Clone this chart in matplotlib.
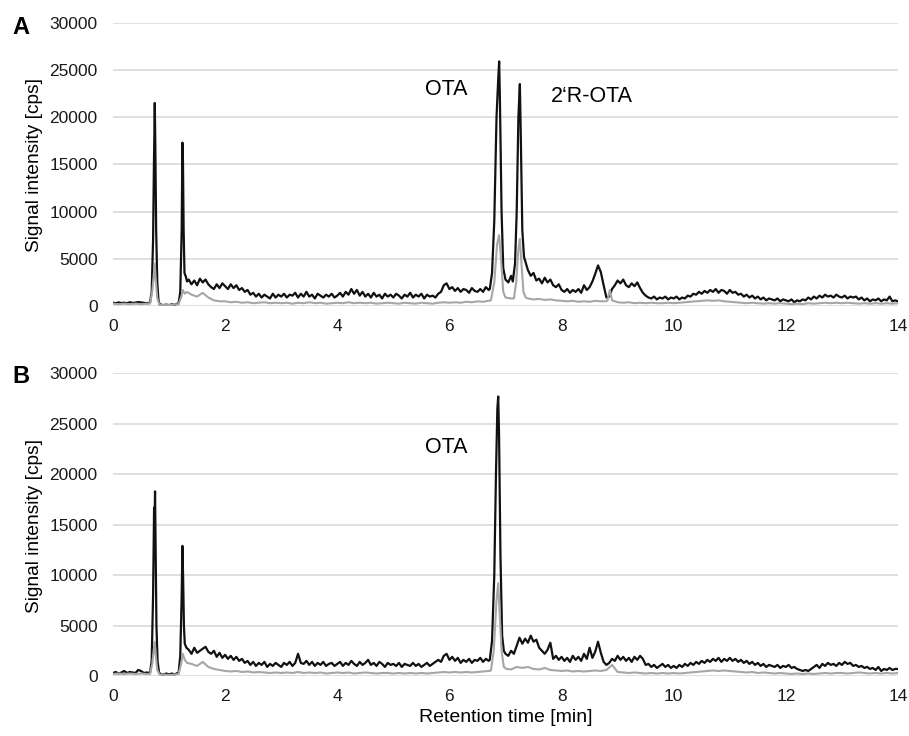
import numpy as np
import matplotlib
matplotlib.use("Agg")
import matplotlib.pyplot as plt

nan = np.nan
plt.rcParams['font.family'] = ['Liberation Sans', 'DejaVu Sans']

## Baseline samples: black traces every 0.05 min, grey traces every 0.1 min.
## NaN marks samples that are replaced by the detailed peak points below.
black_step = 0.05
grey_step = 0.1

black_a = [
    350, 300, 380, 320, 350, 300, 400, 330, 360, 420, 380, 350, 300, 350, nan, nan, nan, 150, 100, 150,
    100, 180, 120, 250, nan, nan, nan, 2800, 2300, 2700, 2200, 2900, 2500, 2800, 2300, 2000, 1800, 2300, 1900, 2400,
    2100, 1800, 2300, 1900, 2200, 1700, 1900, 1500, 1700, 1200, 1400, 1000, 1300, 900, 1200, 1000, 800, 1300, 900, 1200,
    1000, 1300, 900, 1200, 1100, 1400, 900, 1300, 1000, 1500, 1000, 1200, 800, 1300, 1100, 900, 1200, 1000, 1300, 900,
    1100, 1400, 1000, 1500, 1200, 1800, 1300, 1700, 1100, 1500, 1000, 1300, 900, 1400, 1000, 1200, 800, 1300, 1000, 1200,
    900, 1300, 1100, 800, 1200, 1000, 1400, 900, 1200, 1000, 1300, 800, 1200, 1000, 1100, 900, 1300, 1500, 2200, 2400,
    1800, 2000, 1600, 1900, 1500, 1800, 1700, 1400, 1900, 1600, 1500, 1800, 1500, 2000, 1700, nan, nan, nan, nan, nan,
    nan, 2500, 3200, nan, nan, nan, nan, nan, 3800, 3200, 3500, 2700, 2900, 2400, 3000, 2500, 2800, 2200, 2000, 2300,
    1700, 1500, 1800, 1400, 1700, 1500, 1800, 1400, 2200, 1700, 2000, 2600, 3400, 4300, 3600, 2200, 900, 1000, 1800, 2200,
    2700, 2400, 2800, 2200, 2000, 2400, 2100, 2500, 1900, 1400, 1100, 900, 800, 1000, 700, 900, 800, 1000, 700, 900,
    800, 1000, 700, 900, 800, 1100, 1000, 1300, 1200, 1500, 1300, 1600, 1400, 1700, 1500, 1800, 1400, 1700, 1600, 1300,
    1700, 1400, 1500, 1200, 1300, 1000, 1200, 900, 1100, 800, 1000, 700, 900, 600, 800, 700, 600, 800, 500, 700,
    600, 500, 700, 400, 600, 500, 700, 600, 900, 700, 1000, 800, 1100, 900, 1200, 1000, 1100, 900, 1200, 1000,
    900, 1100, 800, 1000, 900, 1000, 700, 900, 600, 800, 500, 700, 600, 800, 500, 700, 600, 1000, 500, 600,
    500,
]
grey_a = [
    250, 200, 250, 200, 250, 200, 250, nan, nan, 100,
    100, 150, nan, nan, 1200, 1000, 1400, 900, 600, 500,
    500, 400, 450, 350, 400, 300, 350, 400, 300, 350,
    300, 350, 250, 350, 300, 400, 300, 350, 250, 300,
    350, 300, 400, 300, 350, 300, 350, 250, 300, 350,
    300, 250, 350, 300, 250, 350, 300, 250, 350, 400,
    350, 400, 350, 450, 400, 500, 450, 550, nan, nan,
    nan, 800, nan, nan, 800, 700, 750, 650, 700, 600,
    550, 500, 550, 450, 500, 450, 550, 500, 500, nan,
    400, 350, 400, 300, 350, 300, 350, 300, 300, 350,
    300, 350, 400, 450, 500, 550, 600, 550, 600, 500,
    450, 400, 350, 300, 350, 300, 250, 300, 250, 300,
    250, 200, 250, 200, 300, 250, 300, 350, 300, 350,
    300, 350, 300, 250, 300, 250, 300, 250, 300, 250,
    300,
]
black_b = [
    300, 400, 250, 350, 500, 300, 400, 350, 300, 600, 500, 300, 350, 300, nan, nan, nan, 200, 150, 250,
    150, 250, 150, 300, nan, nan, nan, 2600, 2200, 2800, 2300, 2500, 2700, 2900, 2400, 2200, 2500, 1900, 2300, 1800,
    2100, 1700, 2000, 1600, 1900, 1500, 1700, 1300, 1500, 1100, 1400, 1000, 1300, 1100, 1400, 900, 1200, 1000, 1300, 1100,
    900, 1300, 1100, 1400, 1000, 1300, 2200, 1300, 1200, 1500, 1100, 1400, 1000, 1300, 1100, 1400, 1000, 1200, 1300, 1000,
    1200, 1400, 1000, 1300, 1100, 1500, 1200, 1000, 1400, 1100, 1300, 1600, 1100, 1300, 1000, 1400, 1200, 900, 1300, 1100,
    1200, 1000, 1300, 900, 1200, 1100, 1000, 1300, 1000, 1200, 900, 1100, 1300, 1000, 1200, 1400, 1600, 1400, 2000, 2200,
    1600, 1900, 1500, 1800, 1300, 1600, 1400, 1700, 1300, 1600, 1500, 1800, 1400, 1700, 1500, nan, nan, nan, nan, nan,
    nan, 2000, 2500, 2200, 3000, 3800, 3200, 3700, 3300, 4000, 3400, 3600, 2800, 2500, 2200, 2600, 3300, 1700, 2000, 1600,
    1900, 1500, 1800, 1400, 2000, 1600, 1900, 1500, 2200, 1700, 2800, 1800, 2400, 3400, 2300, 1400, 1100, 1300, 1700, 1500,
    2000, 1600, 1900, 1500, 1800, 1400, 1900, 1600, 2000, 1700, 1100, 1200, 900, 1100, 800, 1000, 1200, 900, 1100, 800,
    1000, 800, 1100, 900, 1200, 1000, 1300, 1100, 1400, 1200, 1500, 1300, 1600, 1400, 1700, 1500, 1800, 1400, 1700, 1500,
    1800, 1500, 1700, 1400, 1600, 1300, 1500, 1200, 1400, 1100, 1300, 1000, 1200, 900, 1100, 1000, 900, 1100, 800, 1000,
    900, 1100, 800, 900, 700, 600, 500, 600, 500, 700, 900, 1100, 800, 1200, 1000, 1300, 1100, 1200, 1000, 1300,
    1100, 1400, 1200, 1300, 1000, 1100, 900, 1000, 800, 900, 700, 800, 600, 900, 500, 700, 600, 800, 600, 700,
    700,
]
grey_b = [
    200, 250, 200, 250, 200, 250, 200, nan, nan, 150,
    100, 150, nan, nan, 1200, 1000, 1400, 900, 700, 600,
    500, 450, 500, 400, 450, 350, 400, 350, 300, 350,
    300, 350, 300, 400, 300, 350, 300, 350, 250, 300,
    350, 300, 350, 250, 300, 350, 300, 250, 300, 300,
    250, 300, 250, 300, 250, 300, 250, 300, 350, 400,
    350, 400, 350, 400, 350, 400, 450, 500, nan, nan,
    nan, 650, 900, 800, 900, 700, 650, 800, 600, 550,
    500, 550, 450, 500, 450, 500, 550, 500, 600, 1100,
    400, 350, 300, 350, 300, 250, 300, 250, 300, 250,
    300, 250, 300, 350, 400, 450, 500, 550, 500, 550,
    500, 450, 400, 350, 400, 300, 350, 300, 250, 300,
    250, 200, 250, 200, 250, 200, 250, 300, 250, 300,
    300, 250, 300, 350, 300, 250, 300, 250, 300, 250,
    300,
]

## Peaks, sampled more finely (time in min, intensity in cps)
black_a_peak_t = [0.66, 0.69, 0.715, 0.73, 0.738, 0.745, 0.755, 0.77, 0.79, 0.81, 0.83,
                  1.17, 1.20, 1.225, 1.238, 1.248, 1.26, 1.275, 1.30, 1.32,
                  6.72, 6.76, 6.80, 6.84, 6.87, 6.887, 6.90, 6.93, 6.96, 7.00,
                  7.13, 7.17, 7.20, 7.23, 7.256, 7.27, 7.30, 7.33, 7.36]
black_a_peak_y = [350, 1500, 7000, 15000, 18000, 21500, 17000, 8000, 2500, 700, 200,
                  250, 1500, 8000, 17300, 15400, 8000, 3500, 3100, 2600,
                  1800, 3500, 9000, 20000, 24000, 25900, 22000, 10000, 4000, 2800,
                  2600, 4500, 10000, 20000, 23500, 19000, 8000, 5200, 4600]
grey_a_peak_t = [0.66, 0.70, 0.73, 0.745, 0.76, 0.79, 0.83,
                 1.17, 1.22, 1.245, 1.28, 1.32,
                 6.74, 6.80, 6.85, 6.885, 6.92, 6.96, 7.00,
                 7.15, 7.19, 7.23, 7.255, 7.28, 7.32, 7.36,
                 8.82, 8.86, 8.90]
grey_a_peak_y = [250, 1500, 3500, 4500, 3000, 800, 150,
                 200, 1000, 1700, 1300, 1500,
                 600, 2500, 6500, 7500, 5000, 1500, 900,
                 800, 2500, 6000, 7100, 5000, 1500, 900,
                 600, 1700, 600]
black_b_peak_t = [0.66, 0.69, 0.715, 0.733, 0.74, 0.75, 0.762, 0.775, 0.795, 0.82, 0.84,
                  1.17, 1.20, 1.225, 1.238, 1.25, 1.265, 1.28, 1.31,
                  6.72, 6.76, 6.80, 6.83, 6.855, 6.87, 6.885, 6.91, 6.94, 6.97, 7.00]
black_b_peak_y = [300, 1500, 8000, 16700, 14500, 18300, 12000, 5000, 1500, 400, 200,
                  300, 2000, 8000, 12900, 10000, 5000, 3200, 2800,
                  1600, 3500, 10000, 20000, 26500, 27700, 24000, 12000, 4000, 2500, 2200]
grey_b_peak_t = [0.66, 0.70, 0.735, 0.745, 0.76, 0.79, 0.83,
                 1.17, 1.215, 1.245, 1.28, 1.32,
                 6.74, 6.79, 6.84, 6.87, 6.89, 6.93, 6.97, 7.02]
grey_b_peak_y = [200, 1200, 3000, 3400, 2200, 600, 150,
                 200, 1200, 2200, 1600, 1300,
                 550, 2500, 7500, 9200, 7000, 2500, 900, 700]

x_ticks = [0, 2, 4, 6, 8, 10, 12, 14]
y_ticks = [0, 5000, 10000, 15000, 20000, 25000, 30000]


def build(step, grid, pk_t, pk_y):
    t = np.round(np.arange(len(grid)) * step, 3)
    t = np.concatenate([t, pk_t])
    y = np.concatenate([np.array(grid, float), pk_y])
    order = np.argsort(t, kind="stable")
    t, y = t[order], y[order]
    ok = ~np.isnan(y)
    return t[ok], y[ok]


fig = plt.figure(figsize=(9.09, 7.36), dpi=100)
ax_a = fig.add_axes([0.1243, 0.5842, 0.8636, 0.3850])
ax_b = fig.add_axes([0.1243, 0.0815, 0.8636, 0.4113])

panels = [
    (ax_a, build(black_step, black_a, black_a_peak_t, black_a_peak_y),
     build(grey_step, grey_a, grey_a_peak_t, grey_a_peak_y)),
    (ax_b, build(black_step, black_b, black_b_peak_t, black_b_peak_y),
     build(grey_step, grey_b, grey_b_peak_t, grey_b_peak_y)),
]

for ax, (tb, yb), (tg, yg) in panels:
    ax.plot(tb, yb, color="#111111", lw=1.6, zorder=3)
    ax.plot(tg, yg, color="#a6a6a6", lw=1.5, zorder=4)
    ax.set_xlim(0, 14)
    ax.set_ylim(0, 30000)
    ax.set_xticks(x_ticks)
    ax.set_yticks(y_ticks)
    ax.grid(axis="y", color="#d9d9d9", lw=1.2)
    ax.set_axisbelow(True)
    for s in ax.spines.values():
        s.set_visible(False)
    ax.tick_params(length=0, labelsize=12.5, colors="#1a1a1a")
    ax.tick_params(axis="y", pad=11)
    ax.tick_params(axis="x", pad=9)
    ax.set_facecolor("none")

ax_a.text(5.94, 22900, "OTA", fontsize=15.5, ha="center", va="center")
ax_a.text(8.54, 22200, "2\u2018R-OTA", fontsize=15.5, ha="center", va="center")
ax_b.text(5.95, 22600, "OTA", fontsize=15.5, ha="center", va="center")

fig.text(35 / 909, 1 - 165 / 736, "Signal intensity [cps]", rotation=90,
         ha="center", va="center", fontsize=13.8)
fig.text(35 / 909, 1 - 526 / 736, "Signal intensity [cps]", rotation=90,
         ha="center", va="center", fontsize=13.8)
fig.text(506 / 909, 1 - 718 / 736, "Retention time [min]", ha="center",
         va="center", fontsize=14)
fig.text(21 / 909, 1 - 27 / 736, "A", fontsize=17, fontweight="bold",
         ha="center", va="center")
fig.text(21 / 909, 1 - 376 / 736, "B", fontsize=17, fontweight="bold",
         ha="center", va="center")

fig.savefig("out.png", dpi=100)
